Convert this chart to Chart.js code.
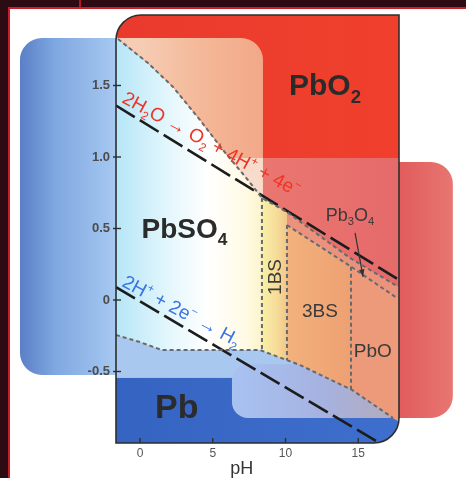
<!DOCTYPE html>
<html><head><meta charset="utf-8">
<script src="https://cdn.jsdelivr.net/npm/chart.js@4.4.1/dist/chart.umd.min.js"></script>
<style>
html,body{margin:0;padding:0;width:466px;height:478px;overflow:hidden;background:#2c0c12;}
#card{position:absolute;left:8px;top:7px;width:458px;height:471px;background:#fff;border-left:2px solid #c81e2a;border-top:2px solid #c81e2a;box-sizing:border-box;}
#mark{position:absolute;left:79px;top:0;width:2px;height:7px;background:#b01a24;}
canvas{position:absolute;left:0;top:0;}
</style></head><body>
<div id="card"></div><div id="mark"></div>
<canvas id="c" width="466" height="478"></canvas>
<script>
// ---------- data ----------
const xTicks = [0, 5, 10, 15];
const yTicks = [-0.5, 0, 0.5, 1.0, 1.5];
const yTickLabels = ['-0.5', '0', '0.5', '1.0', '1.5'];
const oxygenLine = [[-1.65, 1.36], [17.66, 0.15]];
const hydrogenLine = [[-1.65, 0.09], [16.3, -0.99]];
const pbo2Boundary = [[-1.51, 1.825], [0.55, 1.657], [2.27, 1.49], [4.12, 1.259], [5.70, 1.049], [7.42, 0.839], [8.38, 0.713], [10.10, 0.615], [14.43, 0.294], [17.66, 0.098]];
const pb3o4Boundary = [[10.10, 0.524], [14.43, 0.238], [17.66, 0.014]];
const leadBoundary = [[-1.65, -0.245], [0, -0.294], [1.51, -0.35], [8.25, -0.35], [11.0, -0.455], [14.57, -0.629], [17.39, -0.825]];
const bs1LeftEdge = [[8.38, 0.713], [8.38, -0.355]];
const bs1RightEdge = [[10.10, 0.524], [10.10, -0.42]];
const pboLeftEdge = [[14.5, 0.233], [14.5, -0.625]];

// ---------- axis range ----------
const X_MIN = -1.65, X_MAX = 17.8, Y_MIN = -1.0, Y_MAX = 1.993;

// ---------- decorative layout (data units) ----------
const deco = {
  leftBox: { x0: -8.25, x1: 8.45, y0: 1.832, y1: -0.524, r: 22 },
  rightBox: { x0: 6.32, x1: 21.5, y0: 0.965, y1: -0.825, r: 22 },
  blob: { x0: 6.32, x1: 21.5, y0: -0.45, y1: -0.825, r: 16 },
  redBandBottom: 0.993,
  leadTop: -0.545,
  frameRadius: 25
};

const FAM = '"Liberation Sans", Arial, Helvetica, sans-serif';
const pts = a => a.map(([x, y]) => ({ x, y }));

function roundRect(ctx, x0, y0, x1, y1, r) {
  ctx.beginPath();
  ctx.moveTo(x0 + r, y0);
  ctx.lineTo(x1 - r, y0); ctx.arcTo(x1, y0, x1, y0 + r, r);
  ctx.lineTo(x1, y1 - r); ctx.arcTo(x1, y1, x1 - r, y1, r);
  ctx.lineTo(x0 + r, y1); ctx.arcTo(x0, y1, x0, y1 - r, r);
  ctx.lineTo(x0, y0 + r); ctx.arcTo(x0, y0, x0 + r, y0, r);
  ctx.closePath();
}
function framePath(ctx, a, r) {
  ctx.beginPath();
  ctx.moveTo(a.left, a.bottom);
  ctx.lineTo(a.left, a.top + r); ctx.arcTo(a.left, a.top, a.left + r, a.top, r);
  ctx.lineTo(a.right, a.top);
  ctx.lineTo(a.right, a.bottom - r); ctx.arcTo(a.right, a.bottom, a.right - r, a.bottom, r);
  ctx.closePath();
}
function polyPath(ctx, chart, arr) {
  const { x, y } = chart.scales;
  ctx.beginPath();
  arr.forEach(([a, b], i) => {
    const px = x.getPixelForValue(a), py = y.getPixelForValue(b);
    i ? ctx.lineTo(px, py) : ctx.moveTo(px, py);
  });
  ctx.closePath();
}
function hGrad(ctx, x0, x1, stops) {
  const g = ctx.createLinearGradient(x0, 0, x1, 0);
  stops.forEach(([o, c]) => g.addColorStop(o, c));
  return g;
}
function drawRich(ctx, parts, px, py, size, weight, color, angle, align, vmid) {
  ctx.save();
  ctx.translate(px, py); ctx.rotate(angle * Math.PI / 180);
  ctx.fillStyle = color; ctx.textBaseline = 'alphabetic'; ctx.textAlign = 'left';
  let total = 0;
  const ws = parts.map(p => {
    const s = p.s ? size * 0.62 : size;
    ctx.font = `${weight} ${s}px ${FAM}`;
    const w = ctx.measureText(p.t).width; total += w; return w;
  });
  let cx = align === 'center' ? -total / 2 : 0;
  const base = vmid ? size * 0.36 : 0;
  parts.forEach((p, i) => {
    const s = p.s ? size * 0.62 : size;
    ctx.font = `${weight} ${s}px ${FAM}`;
    const dy = p.s === 'sub' ? size * 0.26 : p.s === 'sup' ? -size * 0.42 : 0;
    ctx.fillText(p.t, cx, dy + base);
    cx += ws[i];
  });
  ctx.restore();
}

const pourbaix = {
  id: 'pourbaix',
  beforeDraw(chart) {
    const { ctx, scales: { x, y } } = chart;
    const L = deco.leftBox, R = deco.rightBox;
    ctx.save();
    // left (blue) panel
    let x0 = x.getPixelForValue(L.x0), x1 = x.getPixelForValue(L.x1);
    roundRect(ctx, x0, y.getPixelForValue(L.y0), x1, y.getPixelForValue(L.y1), L.r);
    ctx.fillStyle = hGrad(ctx, x0, chart.chartArea.left, [[0, '#5a7fc6'], [0.35, '#7ea6e0'], [1, '#a7c9f1']]);
    ctx.fill();
    // right (red) panel
    x0 = x.getPixelForValue(R.x0); x1 = x.getPixelForValue(R.x1);
    roundRect(ctx, x0, y.getPixelForValue(R.y0), x1, y.getPixelForValue(R.y1), R.r);
    ctx.fillStyle = hGrad(ctx, chart.chartArea.right, x1, [[0, '#e25c5c'], [1, '#e77672']]);
    ctx.fill();
    ctx.restore();
  },
  beforeDatasetsDraw(chart) {
    const { ctx, chartArea: a, scales: { x, y } } = chart;
    const X = v => x.getPixelForValue(v), Y = v => y.getPixelForValue(v);
    const L = deco.leftBox, B = deco.blob;
    ctx.save();
    framePath(ctx, a, deco.frameRadius); ctx.clip();
    // lead (bottom) blue
    ctx.fillStyle = hGrad(ctx, a.left, a.right, [[0, '#3563c1'], [1, '#3f6fce']]);
    ctx.fillRect(a.left, a.top, a.right - a.left, a.bottom - a.top);
    // light-blue zone above lead band
    ctx.fillStyle = '#a8c8f0';
    ctx.fillRect(a.left, a.top, a.right - a.left, Y(deco.leadTop) - a.top);
    // lighter blob where the right panel overlaps
    roundRect(ctx, X(B.x0), Y(B.y0), X(B.x1), Y(B.y1), B.r);
    ctx.fillStyle = hGrad(ctx, X(B.x0), a.right, [[0, '#a8c2f2'], [0.55, '#a6b2e0'], [1, '#b4aab8']]);
    ctx.fill();
    // everything above the lead boundary: 3BS orange base
    polyPath(ctx, chart, [[X_MIN, Y_MAX], ...leadBoundary, [X_MAX, -0.85], [X_MAX, Y_MAX]]);
    ctx.fillStyle = hGrad(ctx, X(10.1), X(14.5), [[0, '#f2b27c'], [1, '#eea072']]);
    ctx.fill();
    // PbSO4 region
    polyPath(ctx, chart, [[X_MIN, 1.87], ...pbo2Boundary.slice(0, 7), bs1LeftEdge[1], ...leadBoundary.slice(0, 4).reverse()]);
    ctx.fillStyle = hGrad(ctx, a.left, X(8.38), [[0, '#b6e6f7'], [0.35, '#e2f6fc'], [0.62, '#ffffff'], [0.88, '#fffbe6'], [1, '#fcf3cc']]);
    ctx.fill();
    // 1BS region
    polyPath(ctx, chart, [pbo2Boundary[6], pbo2Boundary[7], bs1RightEdge[1], bs1LeftEdge[1]]);
    ctx.fillStyle = hGrad(ctx, X(8.38), X(10.1), [[0, '#f8f0a6'], [0.6, '#f6dc98'], [1, '#f3c68a']]);
    ctx.fill();
    // Pb3O4 strip
    polyPath(ctx, chart, [...pbo2Boundary.slice(7), [X_MAX, 0.09], [X_MAX, 0.005], ...pb3o4Boundary.slice().reverse()]);
    ctx.fillStyle = '#eb927c';
    ctx.fill();
    // PbO region
    polyPath(ctx, chart, [pboLeftEdge[0], pb3o4Boundary[2], [X_MAX, 0.005], [X_MAX, -0.85], leadBoundary[6], pboLeftEdge[1]]);
    ctx.fillStyle = '#ec9a7a';
    ctx.fill();
    // PbO2 region
    const pbo2Poly = [[X_MIN, 1.87], ...pbo2Boundary, [X_MAX, 0.09], [X_MAX, Y_MAX + 0.1], [X_MIN, Y_MAX + 0.1]];
    polyPath(ctx, chart, pbo2Poly);
    ctx.fillStyle = hGrad(ctx, X(6), a.right, [[0, '#ec7a72'], [1, '#e56a6a']]);
    ctx.fill();
    ctx.save();
    polyPath(ctx, chart, pbo2Poly); ctx.clip();
    ctx.fillStyle = hGrad(ctx, a.left, a.right, [[0, '#ea3a2e'], [1, '#f0402c']]);
    ctx.fillRect(a.left, a.top, a.right - a.left, Y(deco.redBandBottom) - a.top);
    // peach part of PbO2 inside left panel
    roundRect(ctx, X(L.x0), Y(L.y0), X(L.x1), Y(L.y1), L.r); ctx.clip();
    ctx.fillStyle = hGrad(ctx, X(0), X(L.x1), [[0, '#f6cdb4'], [0.5, '#f4b898'], [1, '#f1a888']]);
    ctx.fillRect(a.left, a.top, a.right - a.left, Y(deco.redBandBottom) - a.top);
    ctx.fillStyle = '#f7dccb';
    ctx.fillRect(a.left, Y(deco.redBandBottom), a.right - a.left, a.bottom - Y(deco.redBandBottom));
    ctx.restore();
    ctx.restore();
  },
  afterDatasetsDraw(chart) {
    const { ctx, chartArea: a, scales: { x, y } } = chart;
    const X = v => x.getPixelForValue(v), Y = v => y.getPixelForValue(v);
    ctx.save();
    // frame
    framePath(ctx, a, deco.frameRadius);
    ctx.strokeStyle = '#2e2e2e'; ctx.lineWidth = 1.6; ctx.stroke();
    // tick marks
    ctx.lineWidth = 1.4;
    yTicks.forEach(v => { ctx.beginPath(); ctx.moveTo(a.left - 3, Y(v)); ctx.lineTo(a.left + 5, Y(v)); ctx.stroke(); });
    xTicks.forEach(v => { ctx.beginPath(); ctx.moveTo(X(v), a.bottom); ctx.lineTo(X(v), a.bottom - 5); ctx.stroke(); });
    // region labels
    const dark = '#2b2b2b', mid = '#3a3a3a';
    drawRich(ctx, [{ t: 'PbO' }, { t: '2', s: 'sub' }], X(10.24), Y(1.434), 30, 'bold', dark, 0);
    drawRich(ctx, [{ t: 'PbSO' }, { t: '4', s: 'sub' }], X(0.1), Y(0.434), 28, 'bold', dark, 0);
    drawRich(ctx, [{ t: 'Pb' }], X(1.03), Y(-0.825), 34, 'bold', dark, 0);
    drawRich(ctx, [{ t: '1BS' }], X(9.21), Y(0.161), 19, 'normal', mid, -90, 'center', true);
    drawRich(ctx, [{ t: '3BS' }], X(12.37), Y(-0.07), 19, 'normal', mid, 0, 'center', true);
    drawRich(ctx, [{ t: 'PbO' }], X(16.0), Y(-0.35), 19, 'normal', mid, 0, 'center', true);
    drawRich(ctx, [{ t: 'Pb' }, { t: '3', s: 'sub' }, { t: 'O' }, { t: '4', s: 'sub' }], X(14.43), Y(0.60), 18, 'normal', mid, 0, 'center', true);
    // arrow to Pb3O4 strip
    const ax0 = X(14.78), ay0 = Y(0.469), ax1 = X(15.33), ay1 = Y(0.161);
    ctx.strokeStyle = '#333'; ctx.fillStyle = '#333'; ctx.lineWidth = 1.2;
    ctx.beginPath(); ctx.moveTo(ax0, ay0); ctx.lineTo(ax1, ay1); ctx.stroke();
    const ang = Math.atan2(ay1 - ay0, ax1 - ax0);
    ctx.beginPath(); ctx.moveTo(ax1, ay1);
    ctx.lineTo(ax1 - 8 * Math.cos(ang - 0.35), ay1 - 8 * Math.sin(ang - 0.35));
    ctx.lineTo(ax1 - 8 * Math.cos(ang + 0.35), ay1 - 8 * Math.sin(ang + 0.35));
    ctx.closePath(); ctx.fill();
    // reaction labels
    drawRich(ctx, [{ t: '2H' }, { t: '2', s: 'sub' }, { t: 'O \u2192 O' }, { t: '2', s: 'sub' }, { t: ' + 4H' }, { t: '+', s: 'sup' }, { t: ' + 4e' }, { t: '\u2212', s: 'sup' }],
      X(-1.31), Y(1.385), 19, 'normal', '#ee3426', 28.5);
    drawRich(ctx, [{ t: '2H' }, { t: '+', s: 'sup' }, { t: ' + 2e' }, { t: '\u2212', s: 'sup' }, { t: ' \u2192 H' }, { t: '2', s: 'sub' }],
      X(-1.31), Y(0.10), 19, 'normal', '#3a74e2', 28);
    // axis title
    drawRich(ctx, [{ t: 'pH' }], X(7.0), 474, 18, 'normal', '#333', 0, 'center');
    ctx.restore();
  }
};

const lineStyle = (data, color, width, dash) => ({ data: pts(data), borderColor: color, borderWidth: width, borderDash: dash, showLine: true, pointRadius: 0, fill: false, tension: 0 });

new Chart(document.getElementById('c').getContext('2d'), {
  type: 'scatter',
  data: {
    datasets: [
      lineStyle(pbo2Boundary, '#666a6e', 2, [4, 3]),
      lineStyle(pb3o4Boundary, '#666a6e', 2, [4, 3]),
      lineStyle(leadBoundary, '#666a6e', 2, [4, 3]),
      lineStyle(bs1LeftEdge, '#666a6e', 2, [4, 3]),
      lineStyle(bs1RightEdge, '#666a6e', 2, [4, 3]),
      lineStyle(pboLeftEdge, '#666a6e', 2, [4, 3]),
      lineStyle(oxygenLine, '#1c1c1c', 2.6, [22, 6]),
      lineStyle(hydrogenLine, '#1c1c1c', 2.6, [22, 6])
    ]
  },
  options: {
    responsive: false, animation: false, devicePixelRatio: 1,
    layout: { padding: { top: 15, right: 67, left: 0, bottom: 0 } },
    plugins: { legend: { display: false }, tooltip: { enabled: false } },
    scales: {
      x: {
        type: 'linear', min: X_MIN, max: X_MAX,
        afterFit: s => { s.height = 35; },
        afterBuildTicks: s => { s.ticks = xTicks.map(v => ({ value: v })); },
        grid: { display: false, drawTicks: false, tickLength: 0 }, border: { display: false },
        ticks: { padding: 3, color: '#555', font: { family: FAM, size: 12 }, maxRotation: 0, autoSkip: false }
      },
      y: {
        type: 'linear', min: Y_MIN, max: Y_MAX,
        afterFit: s => { s.width = 116; },
        afterBuildTicks: s => { s.ticks = yTicks.map(v => ({ value: v })); },
        grid: { display: false, drawTicks: false, tickLength: 0 }, border: { display: false },
        ticks: { padding: 6, color: '#4c4c4c', font: { family: FAM, size: 13, weight: 'bold' }, autoSkip: false,
          callback: v => yTickLabels[yTicks.indexOf(v)] }
      }
    }
  },
  plugins: [pourbaix]
});
</script>
</body></html>
